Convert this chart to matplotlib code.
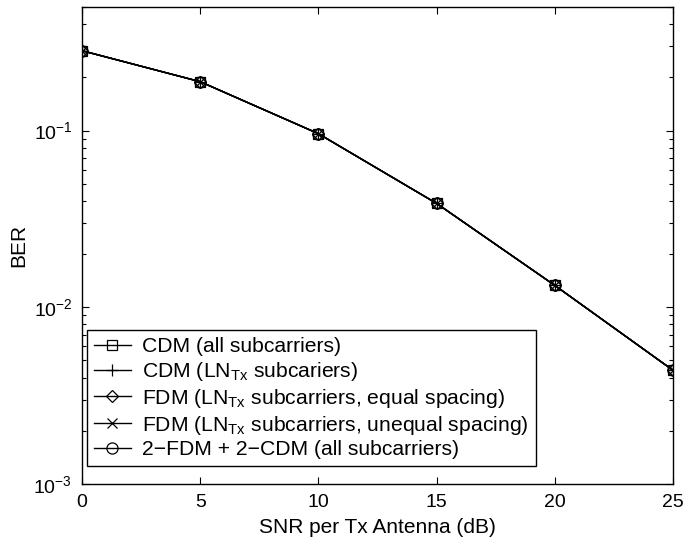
import matplotlib
matplotlib.use("Agg")
import matplotlib.pyplot as plt
from matplotlib.ticker import LogLocator, NullFormatter, FixedLocator

plt.rcParams['font.family'] = ['Liberation Sans', 'DejaVu Sans']
plt.rcParams['mathtext.fontset'] = 'custom'
plt.rcParams['mathtext.rm'] = 'Liberation Sans'
plt.rcParams['mathtext.it'] = 'Liberation Sans:italic'

snr = [0, 5, 10, 15, 20, 25]
ber_cdm_all = [0.283, 0.189, 0.096, 0.0387, 0.0133, 0.0044]
ber_cdm_ln = [0.283, 0.189, 0.096, 0.0387, 0.0133, 0.0044]
ber_fdm_eq = [0.283, 0.189, 0.096, 0.0387, 0.0133, 0.0044]
ber_fdm_uneq = [0.283, 0.189, 0.096, 0.0387, 0.0133, 0.0044]
ber_hybrid = [0.283, 0.189, 0.096, 0.0387, 0.0133, 0.0044]

labels = [
    'CDM (all subcarriers)',
    r'CDM (LN$_{\mathrm{Tx}}$ subcariers)',
    r'FDM (LN$_{\mathrm{Tx}}$ subcarriers, equal spacing)',
    r'FDM (LN$_{\mathrm{Tx}}$ subcarriers, unequal spacing)',
    '2\u2212FDM + 2\u2212CDM (all subcarriers)',
]
series = [ber_cdm_all, ber_cdm_ln, ber_fdm_eq, ber_fdm_uneq, ber_hybrid]
markers = ['s', '+', 'D', 'x', 'o']
msizes = [7, 9, 6.5, 7, 8]

fig = plt.figure(figsize=(6.86, 5.52), dpi=100)
ax = fig.add_axes([0.1195, 0.1232, 0.8615, 0.8641])

for y, m, ms, lab in zip(series, markers, msizes, labels):
    ax.plot(snr, y, color='black', lw=1.0, marker=m, markersize=ms,
            markerfacecolor='none', markeredgecolor='black', markeredgewidth=0.9,
            label=lab)

ax.set_yscale('log')
ax.set_xlim(0, 25)
ax.set_ylim(1e-3, 0.5)
ax.xaxis.set_major_locator(FixedLocator([0, 5, 10, 15, 20, 25]))
ax.yaxis.set_major_locator(LogLocator(base=10, numticks=10))
ax.yaxis.set_minor_locator(LogLocator(base=10, subs=range(2, 10), numticks=20))
ax.yaxis.set_minor_formatter(NullFormatter())

ax.tick_params(which='both', direction='in', top=True, right=True, labelsize=14, pad=7)
ax.tick_params(which='major', length=5, width=0.8)
ax.tick_params(which='minor', length=3, width=0.8)
for s in ax.spines.values():
    s.set_linewidth(1.0)

ax.set_xlabel('SNR per Tx Antenna (dB)', fontsize=15, labelpad=5)
ax.set_ylabel('BER', fontsize=15, labelpad=4)

leg = ax.legend(loc='lower left', bbox_to_anchor=(0.008, 0.037), fontsize=15.2,
                frameon=True, fancybox=False, shadow=False, borderpad=0.33,
                labelspacing=0.18, handlelength=1.75, handletextpad=0.55,
                borderaxespad=0.0)
leg.get_frame().set_edgecolor('black')
leg.get_frame().set_linewidth(1.0)
leg.get_frame().set_alpha(1.0)

fig.savefig('out.png', dpi=100)
